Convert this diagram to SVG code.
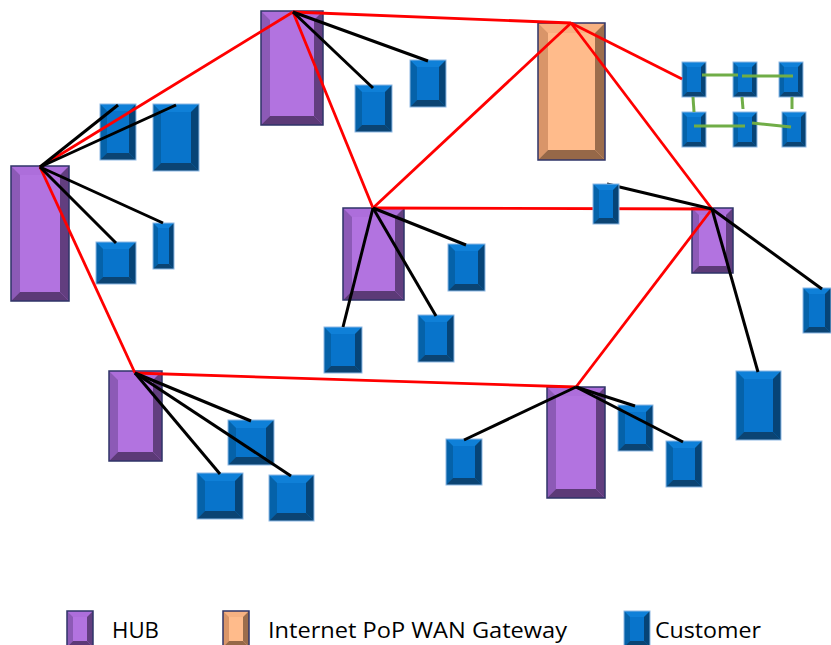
<svg xmlns="http://www.w3.org/2000/svg" width="831" height="645" viewBox="0 0 831 645">
<style>
.hub .c{fill:#B273E0}.hub .t{fill:#AD6EDB}.hub .l{fill:#8C5AB6}.hub .r{fill:#623E7F}.hub .b{fill:#5C3A77}
.hub .o,.gw .o{fill:none;stroke:#2F3468;stroke-width:1.5}
.gw .c{fill:#FFBB8B}.gw .t{fill:#F7B182}.gw .l{fill:#D99569}.gw .r{fill:#9C6D4C}.gw .b{fill:#966848}
.cu .c{fill:#0874CB}.cu .t{fill:#0F80D8}.cu .l{fill:#0562A9}.cu .r{fill:#064477}.cu .b{fill:#0B4473}
.cu .o{fill:none;stroke:#8DB8E4;stroke-width:1}
.red{stroke:#FF0000;stroke-width:2.8;fill:none}
.blk{stroke:#000;stroke-width:3;fill:none}
.grn{stroke:#70AD47;stroke-width:3;fill:none}
.lbl{font-family:"Open Sans","Liberation Sans",sans-serif;font-size:22px;fill:#000}
</style>
<rect width="831" height="645" fill="#fff"/>
<g id="nodes">
<g id="hub1" class="hub" transform="translate(261,11)"><rect class="c" width="62" height="114"/><polygon class="t" points="0,0 62,0 53,9 9,9"/><polygon class="l" points="0,0 9,9 9,105 0,114"/><polygon class="r" points="62,0 62,114 53,105 53,9"/><polygon class="b" points="0,114 62,114 53,105 9,105"/><rect class="o" width="62" height="114"/></g>
<g id="hub2" class="hub" transform="translate(11,166)"><rect class="c" width="58" height="135"/><polygon class="t" points="0,0 58,0 49,9 9,9"/><polygon class="l" points="0,0 9,9 9,126 0,135"/><polygon class="r" points="58,0 58,135 49,126 49,9"/><polygon class="b" points="0,135 58,135 49,126 9,126"/><rect class="o" width="58" height="135"/></g>
<g id="hub3" class="hub" transform="translate(343,208)"><rect class="c" width="61" height="92"/><polygon class="t" points="0,0 61,0 52,9 9,9"/><polygon class="l" points="0,0 9,9 9,83 0,92"/><polygon class="r" points="61,0 61,92 52,83 52,9"/><polygon class="b" points="0,92 61,92 52,83 9,83"/><rect class="o" width="61" height="92"/></g>
<g id="hub4" class="hub" transform="translate(692,208)"><rect class="c" width="41" height="65"/><polygon class="t" points="0,0 41,0 34,7 7,7"/><polygon class="l" points="0,0 7,7 7,58 0,65"/><polygon class="r" points="41,0 41,65 34,58 34,7"/><polygon class="b" points="0,65 41,65 34,58 7,58"/><rect class="o" width="41" height="65"/></g>
<g id="hub5" class="hub" transform="translate(109,371)"><rect class="c" width="53" height="90"/><polygon class="t" points="0,0 53,0 44,9 9,9"/><polygon class="l" points="0,0 9,9 9,81 0,90"/><polygon class="r" points="53,0 53,90 44,81 44,9"/><polygon class="b" points="0,90 53,90 44,81 9,81"/><rect class="o" width="53" height="90"/></g>
<g id="hub6" class="hub" transform="translate(547,387)"><rect class="c" width="58" height="111"/><polygon class="t" points="0,0 58,0 49,9 9,9"/><polygon class="l" points="0,0 9,9 9,102 0,111"/><polygon class="r" points="58,0 58,111 49,102 49,9"/><polygon class="b" points="0,111 58,111 49,102 9,102"/><rect class="o" width="58" height="111"/></g>
<g id="gateway" class="gw" transform="translate(538,23)"><rect class="c" width="67" height="137"/><polygon class="t" points="0,0 67,0 57,10 10,10"/><polygon class="l" points="0,0 10,10 10,127 0,137"/><polygon class="r" points="67,0 67,137 57,127 57,10"/><polygon class="b" points="0,137 67,137 57,127 10,127"/><rect class="o" width="67" height="137"/></g>
<g id="cust1" class="cu" transform="translate(355,85)"><rect class="c" width="37" height="47"/><polygon class="t" points="0,0 37,0 30,7 7,7"/><polygon class="l" points="0,0 7,7 7,40 0,47"/><polygon class="r" points="37,0 37,47 30,40 30,7"/><polygon class="b" points="0,47 37,47 30,40 7,40"/><rect class="o" width="37" height="47"/></g>
<g id="cust2" class="cu" transform="translate(410,60)"><rect class="c" width="36" height="47"/><polygon class="t" points="0,0 36,0 29,7 7,7"/><polygon class="l" points="0,0 7,7 7,40 0,47"/><polygon class="r" points="36,0 36,47 29,40 29,7"/><polygon class="b" points="0,47 36,47 29,40 7,40"/><rect class="o" width="36" height="47"/></g>
<g id="cust3" class="cu" transform="translate(100,104)"><rect class="c" width="36" height="56"/><polygon class="t" points="0,0 36,0 29,7 7,7"/><polygon class="l" points="0,0 7,7 7,49 0,56"/><polygon class="r" points="36,0 36,56 29,49 29,7"/><polygon class="b" points="0,56 36,56 29,49 7,49"/><rect class="o" width="36" height="56"/></g>
<g id="cust4" class="cu" transform="translate(153,104)"><rect class="c" width="46" height="67"/><polygon class="t" points="0,0 46,0 38,8 8,8"/><polygon class="l" points="0,0 8,8 8,59 0,67"/><polygon class="r" points="46,0 46,67 38,59 38,8"/><polygon class="b" points="0,67 46,67 38,59 8,59"/><rect class="o" width="46" height="67"/></g>
<g id="cust5" class="cu" transform="translate(96,242)"><rect class="c" width="40" height="42"/><polygon class="t" points="0,0 40,0 33,7 7,7"/><polygon class="l" points="0,0 7,7 7,35 0,42"/><polygon class="r" points="40,0 40,42 33,35 33,7"/><polygon class="b" points="0,42 40,42 33,35 7,35"/><rect class="o" width="40" height="42"/></g>
<g id="cust6" class="cu" transform="translate(153,223)"><rect class="c" width="21" height="46"/><polygon class="t" points="0,0 21,0 16,5 5,5"/><polygon class="l" points="0,0 5,5 5,41 0,46"/><polygon class="r" points="21,0 21,46 16,41 16,5"/><polygon class="b" points="0,46 21,46 16,41 5,41"/><rect class="o" width="21" height="46"/></g>
<g id="cust7" class="cu" transform="translate(448,244)"><rect class="c" width="37" height="47"/><polygon class="t" points="0,0 37,0 30,7 7,7"/><polygon class="l" points="0,0 7,7 7,40 0,47"/><polygon class="r" points="37,0 37,47 30,40 30,7"/><polygon class="b" points="0,47 37,47 30,40 7,40"/><rect class="o" width="37" height="47"/></g>
<g id="cust8" class="cu" transform="translate(418,315)"><rect class="c" width="36" height="47"/><polygon class="t" points="0,0 36,0 29,7 7,7"/><polygon class="l" points="0,0 7,7 7,40 0,47"/><polygon class="r" points="36,0 36,47 29,40 29,7"/><polygon class="b" points="0,47 36,47 29,40 7,40"/><rect class="o" width="36" height="47"/></g>
<g id="cust9" class="cu" transform="translate(324,327)"><rect class="c" width="38" height="46"/><polygon class="t" points="0,0 38,0 31,7 7,7"/><polygon class="l" points="0,0 7,7 7,39 0,46"/><polygon class="r" points="38,0 38,46 31,39 31,7"/><polygon class="b" points="0,46 38,46 31,39 7,39"/><rect class="o" width="38" height="46"/></g>
<g id="cust11" class="cu" transform="translate(803,288)"><rect class="c" width="28" height="45"/><polygon class="t" points="0,0 28,0 22,6 6,6"/><polygon class="l" points="0,0 6,6 6,39 0,45"/><polygon class="r" points="28,0 28,45 22,39 22,6"/><polygon class="b" points="0,45 28,45 22,39 6,39"/><rect class="o" width="28" height="45"/></g>
<g id="cust12" class="cu" transform="translate(736,371)"><rect class="c" width="45" height="69"/><polygon class="t" points="0,0 45,0 37,8 8,8"/><polygon class="l" points="0,0 8,8 8,61 0,69"/><polygon class="r" points="45,0 45,69 37,61 37,8"/><polygon class="b" points="0,69 45,69 37,61 8,61"/><rect class="o" width="45" height="69"/></g>
<g id="cust13" class="cu" transform="translate(228,420)"><rect class="c" width="46" height="45"/><polygon class="t" points="0,0 46,0 38,8 8,8"/><polygon class="l" points="0,0 8,8 8,37 0,45"/><polygon class="r" points="46,0 46,45 38,37 38,8"/><polygon class="b" points="0,45 46,45 38,37 8,37"/><rect class="o" width="46" height="45"/></g>
<g id="cust14" class="cu" transform="translate(197,473)"><rect class="c" width="46" height="46"/><polygon class="t" points="0,0 46,0 38,8 8,8"/><polygon class="l" points="0,0 8,8 8,38 0,46"/><polygon class="r" points="46,0 46,46 38,38 38,8"/><polygon class="b" points="0,46 46,46 38,38 8,38"/><rect class="o" width="46" height="46"/></g>
<g id="cust15" class="cu" transform="translate(269,475)"><rect class="c" width="45" height="46"/><polygon class="t" points="0,0 45,0 37,8 8,8"/><polygon class="l" points="0,0 8,8 8,38 0,46"/><polygon class="r" points="45,0 45,46 37,38 37,8"/><polygon class="b" points="0,46 45,46 37,38 8,38"/><rect class="o" width="45" height="46"/></g>
<g id="cust16" class="cu" transform="translate(446,439)"><rect class="c" width="36" height="46"/><polygon class="t" points="0,0 36,0 29,7 7,7"/><polygon class="l" points="0,0 7,7 7,39 0,46"/><polygon class="r" points="36,0 36,46 29,39 29,7"/><polygon class="b" points="0,46 36,46 29,39 7,39"/><rect class="o" width="36" height="46"/></g>
<g id="cust17" class="cu" transform="translate(618,405)"><rect class="c" width="35" height="46"/><polygon class="t" points="0,0 35,0 28,7 7,7"/><polygon class="l" points="0,0 7,7 7,39 0,46"/><polygon class="r" points="35,0 35,46 28,39 28,7"/><polygon class="b" points="0,46 35,46 28,39 7,39"/><rect class="o" width="35" height="46"/></g>
<g id="cust18" class="cu" transform="translate(666,441)"><rect class="c" width="36" height="46"/><polygon class="t" points="0,0 36,0 29,7 7,7"/><polygon class="l" points="0,0 7,7 7,39 0,46"/><polygon class="r" points="36,0 36,46 29,39 29,7"/><polygon class="b" points="0,46 36,46 29,39 7,39"/><rect class="o" width="36" height="46"/></g>
<g id="grid1" class="cu" transform="translate(682,62)"><rect class="c" width="24" height="35"/><polygon class="t" points="0,0 24,0 19,5 5,5"/><polygon class="l" points="0,0 5,5 5,30 0,35"/><polygon class="r" points="24,0 24,35 19,30 19,5"/><polygon class="b" points="0,35 24,35 19,30 5,30"/><rect class="o" width="24" height="35"/></g>
<g id="grid2" class="cu" transform="translate(733,62)"><rect class="c" width="24" height="35"/><polygon class="t" points="0,0 24,0 19,5 5,5"/><polygon class="l" points="0,0 5,5 5,30 0,35"/><polygon class="r" points="24,0 24,35 19,30 19,5"/><polygon class="b" points="0,35 24,35 19,30 5,30"/><rect class="o" width="24" height="35"/></g>
<g id="grid3" class="cu" transform="translate(779,62)"><rect class="c" width="24" height="35"/><polygon class="t" points="0,0 24,0 19,5 5,5"/><polygon class="l" points="0,0 5,5 5,30 0,35"/><polygon class="r" points="24,0 24,35 19,30 19,5"/><polygon class="b" points="0,35 24,35 19,30 5,30"/><rect class="o" width="24" height="35"/></g>
<g id="grid4" class="cu" transform="translate(682,112)"><rect class="c" width="24" height="35"/><polygon class="t" points="0,0 24,0 19,5 5,5"/><polygon class="l" points="0,0 5,5 5,30 0,35"/><polygon class="r" points="24,0 24,35 19,30 19,5"/><polygon class="b" points="0,35 24,35 19,30 5,30"/><rect class="o" width="24" height="35"/></g>
<g id="grid5" class="cu" transform="translate(733,112)"><rect class="c" width="24" height="35"/><polygon class="t" points="0,0 24,0 19,5 5,5"/><polygon class="l" points="0,0 5,5 5,30 0,35"/><polygon class="r" points="24,0 24,35 19,30 19,5"/><polygon class="b" points="0,35 24,35 19,30 5,30"/><rect class="o" width="24" height="35"/></g>
<g id="grid6" class="cu" transform="translate(782,112)"><rect class="c" width="24" height="35"/><polygon class="t" points="0,0 24,0 19,5 5,5"/><polygon class="l" points="0,0 5,5 5,30 0,35"/><polygon class="r" points="24,0 24,35 19,30 19,5"/><polygon class="b" points="0,35 24,35 19,30 5,30"/><rect class="o" width="24" height="35"/></g>
</g>
<g id="connectors">
<g class="red">
<line x1="293" y1="12" x2="571" y2="23"/>
<line x1="293" y1="12" x2="40" y2="167"/>
<line x1="293" y1="12" x2="373" y2="208"/>
<line x1="571" y1="23" x2="373" y2="208"/>
<line x1="571" y1="23" x2="712" y2="209"/>
<line x1="571" y1="23" x2="682" y2="79"/>
<line x1="373" y1="208" x2="712" y2="209"/>
<line x1="40" y1="167" x2="135" y2="373"/>
<line x1="135" y1="373" x2="576" y2="387"/>
<line x1="576" y1="387" x2="712" y2="209"/>
</g>
<g class="blk">
<line x1="293" y1="12" x2="373" y2="88"/>
<line x1="293" y1="12" x2="428" y2="61"/>
<line x1="40" y1="167" x2="118" y2="105"/>
<line x1="40" y1="167" x2="176" y2="105"/>
<line x1="40" y1="167" x2="116" y2="243"/>
<line x1="40" y1="167" x2="163" y2="223"/>
<line x1="373" y1="208" x2="466" y2="245"/>
<line x1="373" y1="208" x2="436" y2="316"/>
<line x1="373" y1="208" x2="343" y2="327"/>
<line x1="712" y1="209" x2="607" y2="184"/>
<line x1="712" y1="209" x2="822" y2="289"/>
<line x1="712" y1="209" x2="758" y2="372"/>
<line x1="135" y1="373" x2="251" y2="421"/>
<line x1="135" y1="373" x2="220" y2="474"/>
<line x1="135" y1="373" x2="291" y2="476"/>
<line x1="576" y1="387" x2="464" y2="440"/>
<line x1="576" y1="387" x2="635" y2="406"/>
<line x1="576" y1="387" x2="683" y2="442"/>
</g>
<g class="grn">
<line x1="702" y1="75" x2="738" y2="75"/>
<line x1="742" y1="76" x2="793" y2="76"/>
<line x1="693" y1="97" x2="694" y2="112"/>
<line x1="742" y1="97" x2="743" y2="109"/>
<line x1="792" y1="97" x2="792" y2="109"/>
<line x1="694" y1="126" x2="745" y2="126"/>
<line x1="752" y1="123" x2="791" y2="127"/>
</g>
</g>
<g id="cust10" class="cu" transform="translate(593,184)"><rect class="c" width="26" height="40"/><polygon class="t" points="0,0 26,0 20,6 6,6"/><polygon class="l" points="0,0 6,6 6,34 0,40"/><polygon class="r" points="26,0 26,40 20,34 20,6"/><polygon class="b" points="0,40 26,40 20,34 6,34"/><rect class="o" width="26" height="40"/></g>
<g id="legend">
<g id="legend-hub" class="hub" transform="translate(67,611)"><rect class="c" width="26" height="36"/><polygon class="t" points="0,0 26,0 20,6 6,6"/><polygon class="l" points="0,0 6,6 6,30 0,36"/><polygon class="r" points="26,0 26,36 20,30 20,6"/><polygon class="b" points="0,36 26,36 20,30 6,30"/><rect class="o" width="26" height="36"/></g>
<text class="lbl" x="112" y="638" textLength="47" lengthAdjust="spacingAndGlyphs">HUB</text>
<g id="legend-gateway" class="gw" transform="translate(223,611)"><rect class="c" width="26" height="36"/><polygon class="t" points="0,0 26,0 20,6 6,6"/><polygon class="l" points="0,0 6,6 6,30 0,36"/><polygon class="r" points="26,0 26,36 20,30 20,6"/><polygon class="b" points="0,36 26,36 20,30 6,30"/><rect class="o" width="26" height="36"/></g>
<text class="lbl" x="268" y="638" textLength="299" lengthAdjust="spacingAndGlyphs">Internet PoP WAN Gateway</text>
<g id="legend-customer" class="cu" transform="translate(624,611)"><rect class="c" width="26" height="36"/><polygon class="t" points="0,0 26,0 20,6 6,6"/><polygon class="l" points="0,0 6,6 6,30 0,36"/><polygon class="r" points="26,0 26,36 20,30 20,6"/><polygon class="b" points="0,36 26,36 20,30 6,30"/><rect class="o" width="26" height="36"/></g>
<text class="lbl" x="655" y="638" textLength="106" lengthAdjust="spacingAndGlyphs">Customer</text>
</g>
</svg>
